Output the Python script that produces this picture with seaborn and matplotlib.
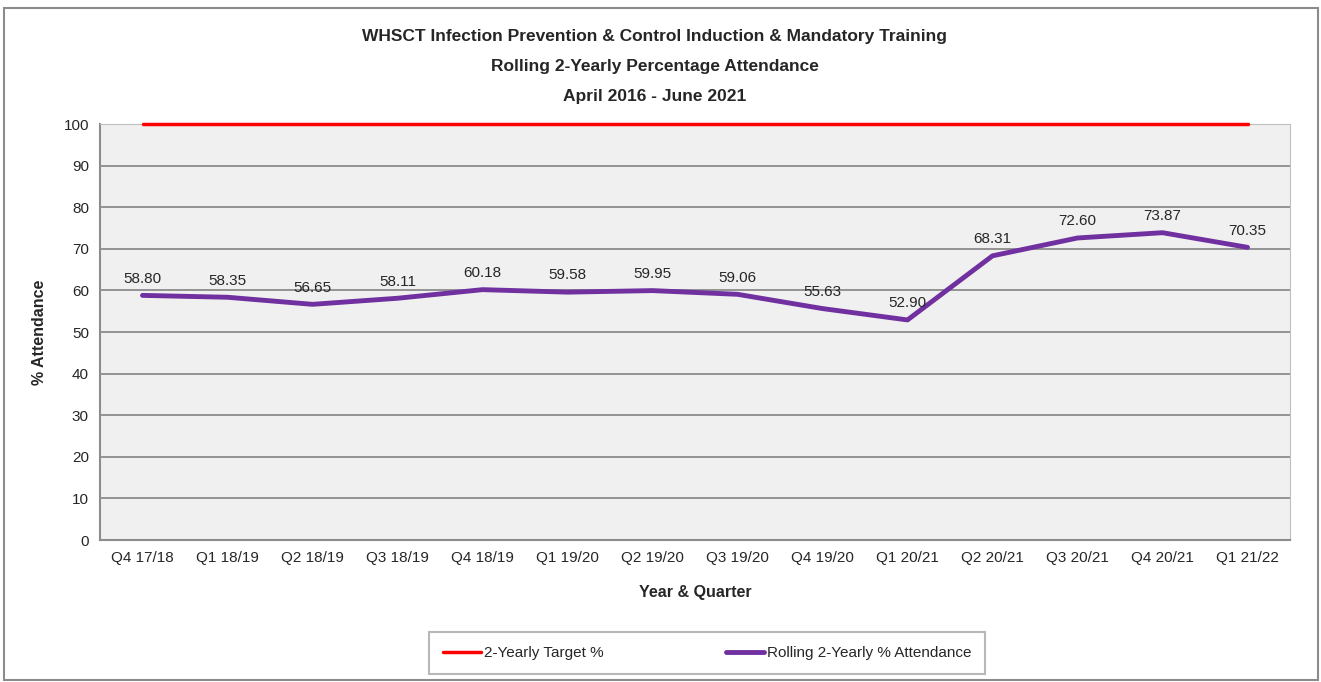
#Rolling 2-yearly IPC training attendance vs target
import pandas as pd
import seaborn as sns
import matplotlib.pyplot as plt
import matplotlib.patches as mpatches

quarters = ["Q4 17/18", "Q1 18/19", "Q2 18/19", "Q3 18/19", "Q4 18/19", "Q1 19/20", "Q2 19/20",
            "Q3 19/20", "Q4 19/20", "Q1 20/21", "Q2 20/21", "Q3 20/21", "Q4 20/21", "Q1 21/22"]
attendance = [58.80, 58.35, 56.65, 58.11, 60.18, 59.58, 59.95, 59.06, 55.63, 52.90, 68.31, 72.60, 73.87, 70.35]
target = [100] * 14

df = pd.DataFrame({"Quarter": quarters, "Attendance": attendance, "Target": target})
df["pos"] = range(len(df))

sns.set_style("white")
plt.rcParams['font.family'] = ['Liberation Sans Narrow', 'Liberation Sans', 'DejaVu Sans']

fig = plt.figure(figsize=(13.21, 6.82), dpi=100)
ax = fig.add_axes([100 / 1321, 142 / 682, 1190 / 1321, 416 / 682])
ax.set_facecolor("#f0f0f0")

# outer chart border
fig.patches.append(mpatches.Rectangle((4 / 1321, 2 / 682), 1314 / 1321, 672 / 682, transform=fig.transFigure,
                                      fill=False, edgecolor="#8c8c8c", linewidth=1.5))

sns.lineplot(data=df, x="pos", y="Target", color="#ff0000", linewidth=2.5, ax=ax, label="2-Yearly Target %",
             clip_on=False, zorder=5)
sns.lineplot(data=df, x="pos", y="Attendance", color="#7030a0", linewidth=3.5, ax=ax,
             label="Rolling 2-Yearly % Attendance")

for i, v in enumerate(attendance):
    ax.annotate(f"{v:.2f}", (i, v), xytext=(0, 12), textcoords="offset points", ha="center", va="center",
                fontsize=11, color="#262626")

ax.set_xlim(-0.5, len(quarters) - 0.5)
ax.set_ylim(0, 100)
ax.set_yticks(range(0, 101, 10))
ax.set_xticks(range(len(quarters)))
ax.set_xticklabels(quarters)
ax.tick_params(axis="both", labelsize=11, colors="#262626", length=0, pad=8)
ax.set_xticks([p + 0.5 for p in range(-1, len(quarters))], minor=True)
ax.tick_params(axis="x", which="minor", length=5, color="#8c8c8c", width=1.2, direction="out")
ax.yaxis.grid(True, color="#8c8c8c", linewidth=1.3)
ax.set_axisbelow(True)
for s in ["top", "right"]:
    ax.spines[s].set_color("#bfbfbf")
for s in ["left", "bottom"]:
    ax.spines[s].set_color("#8c8c8c")
    ax.spines[s].set_linewidth(1.5)

ax.set_xlabel("Year & Quarter", fontsize=11.5, fontweight="bold", labelpad=14)
ax.set_ylabel("% Attendance", fontsize=11.5, fontweight="bold", labelpad=12)

fig.text(655 / 1321, 1 - 37 / 682, "WHSCT Infection Prevention & Control Induction & Mandatory Training",
         ha="center", va="center", fontsize=12.5, fontweight="bold")
fig.text(655 / 1321, 1 - 66 / 682, "Rolling 2-Yearly Percentage Attendance",
         ha="center", va="center", fontsize=12.5, fontweight="bold")
fig.text(655 / 1321, 1 - 96 / 682, "April 2016 - June 2021",
         ha="center", va="center", fontsize=12.5, fontweight="bold")

leg = ax.legend(loc="center", bbox_to_anchor=(707 / 1321, 1 - 653 / 682), bbox_transform=fig.transFigure,
                ncol=2, frameon=True, fancybox=False, fontsize=11, handlelength=2.5, handletextpad=0.2,
                columnspacing=8, borderpad=0.9, borderaxespad=0)
leg.get_frame().set_edgecolor("#a6a6a6")
leg.get_frame().set_linewidth(1.5)
for t in leg.get_texts():
    t.set_color("#262626")

fig.savefig("out.png", dpi=100)
